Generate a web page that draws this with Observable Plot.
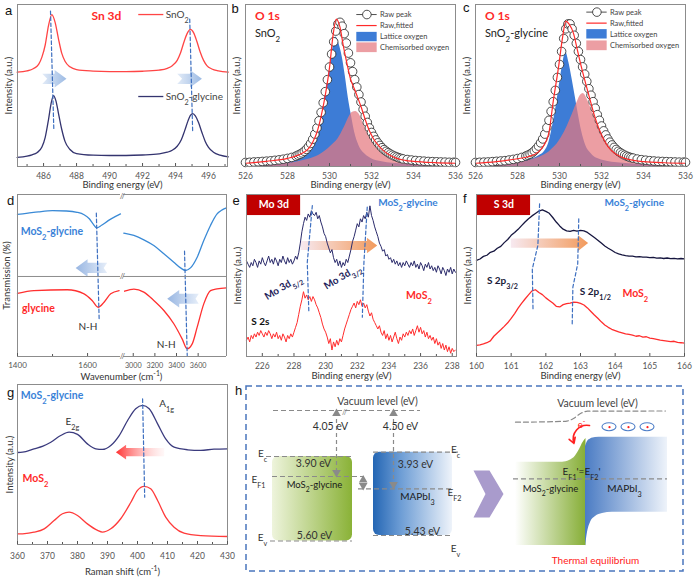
<!DOCTYPE html>
<html><head><meta charset="utf-8">
<script src="https://cdn.jsdelivr.net/npm/d3@7"></script>
<script src="https://cdn.jsdelivr.net/npm/@observablehq/plot@0.6"></script>
<style>
html,body{margin:0;padding:0;background:#fff;}
#fig{position:relative;width:697px;height:579px;overflow:hidden;background:#fff;}
.pl{position:absolute;}
.lt{position:absolute;font:13px "Liberation Sans",Arial,sans-serif;color:#111;line-height:1;}
</style></head>
<body>
<svg width="0" height="0" style="position:absolute">
<defs>
<linearGradient id="gArrA" x1="0" x2="1" y1="0" y2="0"><stop offset="0" stop-color="#e2ebf7"/><stop offset="1" stop-color="#9dbbe4"/></linearGradient>
<linearGradient id="gArrD" x1="0" x2="1" y1="0" y2="0"><stop offset="0" stop-color="#98b6e2"/><stop offset="1" stop-color="#e6eef9"/></linearGradient>
<linearGradient id="gArrE" x1="0" x2="1" y1="0" y2="0"><stop offset="0" stop-color="#f7e9f0"/><stop offset="1" stop-color="#f29a5c"/></linearGradient>
<linearGradient id="gArrG" x1="0" x2="1" y1="0" y2="0"><stop offset="0" stop-color="#ff3030"/><stop offset="1" stop-color="#ffe6e6" stop-opacity="0.3"/></linearGradient>
<linearGradient id="gGreenBox" x1="0" x2="1" y1="0" y2="0"><stop offset="0" stop-color="#eef4dc"/><stop offset="1" stop-color="#8ab237"/></linearGradient>
<linearGradient id="gBlueBox" x1="0" x2="1" y1="0" y2="0"><stop offset="0" stop-color="#2466b4"/><stop offset="0.35" stop-color="#6d9dd5"/><stop offset="1" stop-color="#eef3fa"/></linearGradient>
<linearGradient id="gGreen2" x1="0" x2="1" y1="0" y2="0"><stop offset="0" stop-color="#ffffff"/><stop offset="1" stop-color="#86ae36"/></linearGradient>
<linearGradient id="gBlue2" x1="0" x2="1" y1="0" y2="0"><stop offset="0" stop-color="#4b7cc4"/><stop offset="1" stop-color="#eef3fa"/></linearGradient>
</defs></svg>
<div id="fig"></div>
<script>
// ---------------- DATA ----------------
// (a) Sn 3d
const aRedX  = [484.4,485.0,485.4,485.7,485.9,486.1,486.3,486.5,486.7,486.9,487.1,487.3,487.6,488.0,489,490,491,492,493,493.5,493.8,494.1,494.3,494.5,494.7,494.9,495.1,495.3,495.5,495.7,495.9,496.2,496.6,497.2];
const aRedY  = [58.2,59,60.5,63,67.5,75,87,93.8,89,79,70,65,61.5,59.8,58.9,58.6,58.6,58.8,59.5,60.6,62.2,65.5,70,76.5,82,84.6,82.5,77,70.5,65.5,62.3,60.2,59,58.3];
const aNavyX = [484.4,485.0,485.3,485.6,485.9,486.1,486.3,486.45,486.6,486.75,486.9,487.1,487.3,487.6,488.0,489,490,491,492,493,493.5,493.8,494.1,494.35,494.55,494.75,494.9,495.05,495.2,495.4,495.6,495.8,496.0,496.3,496.7,497.2];
const aNavyY = [5.6,6.4,7.2,8.5,12,18,29,38.5,43.8,40.5,33,23,15.5,10.5,8,7,6.8,6.8,7.1,7.8,8.8,10,12.5,16.5,22,28,31.6,32.7,31.3,27,21,15.5,11.8,8.8,7,6];
const aTicks = [486,488,490,492,494,496];
const aMinor = [485,487,489,491,493,495,497];

// (b),(c) O 1s
const oTicks = [526,528,530,532,534,536];
const oMinor = [527,529,531,533,535];
const rawX = [...d3.range(526, 528.41, 0.2), ...d3.range(528.5, 533.51, 0.1), ...d3.range(533.7, 535.91, 0.2), 536];
const bRaw = [2.5,2.6,2.8,2.9,3.1,3.3,3.5,3.8,4.1,4.5,5,5.6,6.4,
 7,7.6,8.4,9.4,10.6,12.2,14.2,16.8,20,23.8,
 28.2,33.4,39.4,46.2,53.6,61.4,69.4,77,83.6,88,
 89,86.6,82,76.2,70,64,58.6,53.6,49,44.4,
 39.8,35.2,31,27.2,23.8,21,18.6,16.4,14.6,13,
 11.6,10.4,9.4,8.5,7.7,7,6.4,5.9,5.4,5,4.7,
 4.3,4,3.7,3.5,3.3,3.1,3,2.9,2.8,2.7,2.6,2.6,2.5];
const bLatX = [526,527,527.5,528,528.5,528.8,529.0,529.2,529.4,529.6,529.8,530.0,530.15,530.3,530.45,530.6,530.75,530.9,531.05,531.2,531.4,531.7,532,532.5,533,534,535,536];
const bLatY = [1.2,1.8,2.5,3.8,6.5,9.5,13,17,22,32,45,60,72,80,76,68,56,42,31,21,13,7.5,4.8,3,2,1.3,1.1,1];
const bChemX = [526,527,528,528.5,529,529.5,529.8,530.1,530.4,530.7,530.95,531.1,531.25,531.4,531.6,531.8,532,532.3,532.6,533,533.5,534,535,536];
const bChemY = [0.8,1.2,2,3,4.5,7,9.5,13,17,24,31,33.5,34,32.5,27,21,16.5,11,7.8,5,3,2,1.3,1];
const bFitX = [526,527,528,528.5,529,529.2,529.4,529.6,529.8,530.0,530.16,530.32,530.5,530.65,530.84,531.0,531.15,531.3,531.5,531.7,531.9,532.1,532.4,532.8,533.2,533.6,534,535,536];
const bFitY = [2,3.2,5,7,11,15,21,31,44,61,80,91,86,75,63,54,49,44,37,29,22,17,12,7.5,5,3.8,3.2,2.4,2];

const cRaw = [2.5,2.6,2.7,2.8,3,3.2,3.4,3.6,4,4.4,4.9,5.6,6.5,
 7,7.6,8.5,9.6,11,12.6,14.6,17,20,24,
 28.5,34,40,47,55,63,71,79,85,88,
 88,85,81,76,71,66,61.5,57,52.5,48,
 44,40,36,32,28.5,25,22,19.5,17,15,
 13.3,11.8,10.5,9.4,8.5,7.7,7,6.4,5.9,5.5,5.2,
 4.6,4.2,3.9,3.6,3.4,3.2,3.1,3,2.9,2.8,2.7,2.7,2.6];
const cLatX = [526,527,528,528.5,529,529.3,529.5,529.7,529.85,530.0,530.15,530.3,530.45,530.6,530.75,530.9,531.05,531.25,531.5,532,533,534,536];
const cLatY = [1,1.5,2.8,4,6.5,9.5,15,27,38,51,63,70.6,64,54,43,32,22,13,8,4,2,1.4,1];
const cChemX = [526,527,528,528.5,529,529.5,530,530.3,530.6,530.85,531.0,531.13,531.3,531.48,531.65,531.8,532,532.27,532.6,532.9,533.3,533.7,534.5,535.3,536];
const cChemY = [1,1.4,2.4,3.5,5.5,9,16,23,32,40,44,45,42,36.6,31,26,21,16,11,7.8,5.5,3.7,2.2,1.5,1.2];
const cFitX = [526,527,528,528.5,529,529.3,529.5,529.7,529.95,530.15,530.3,530.45,530.67,530.85,531.05,531.25,531.46,531.65,531.86,532.1,532.33,532.7,533.1,533.6,534,535,536];
const cFitY = [2,3,4.8,6,9,14,21,40,61,80,89.7,88,82,72,61,51,41,32,24,17,12,7.5,5,3.6,3,2.3,2];

// (d) FTIR
const dBlueLX = [1400,1430,1460,1500,1540,1570,1590,1605,1615,1626,1640,1660,1680,1694];
const dBlueLY = [87.7,88.5,89.3,90,89.8,89,87.5,85,82,79.4,81,84,86.5,88];
const dBlueRX = [2913,3006,3098,3190,3283,3375,3437,3483,3529,3591,3652,3714,3775,3822,3862];
const dBlueRY = [76.1,74.7,72,68.5,63.4,58.2,54.7,53.1,54.7,61.3,71.6,80.9,88,90.5,91.7];
const dRedLX = [1400,1447,1542,1590,1613,1630,1647,1666,1690];
const dRedLY = [39,40.7,41.2,38.7,34.6,30.4,33.5,38.7,40.7];
const dRedRX = [2920,3006,3098,3190,3283,3375,3452,3498,3545,3591,3652,3714,3775,3862];
const dRedRY = [40.3,41.6,39.7,34.6,28.4,20.2,10.9,4.8,7.8,18.1,32.5,40.7,41.8,42.4];

// (e) Mo 3d
const eX = d3.range(225, 238.21, 0.1);
const eNavy = [59,57,55,58,56,60,58,55,59,57, 61,58,56,59,62,58,60,57,61,59, 56,60,58,62,59,57,61,58,60,57,
 59,62,60,64,70,77,82,86,84,88, 86,90,88,87,89,85,87,83,80,76, 74,70,67,64,66,61,58,60,56,59,
 55,58,56,60,58,62,66,71,74,78, 82,80,85,83,87,85,89,86,93,87, 84,80,77,74,70,68,65,66,62,63,
 60,61,58,60,57,59,56,58,55,58, 56,59,57,55,58,56,59,55,57,54, 58,56,53,57,55,58,54,56,53,55,
 52,56,54,51,55,53,50,54,52,55, 51,54,52];
const eRed = [10,12,9,13,11,14,12,15,13,16, 14,12,15,13,16,14,11,14,12,15, 11,13,10,14,12,9,13,11,14,12,
 15,18,21,26,31,35,40,36,38,35, 37,34,37,35,32,30,27,24,20,17, 15,12,8,11,4,9,6,10,7,11,
 9,13,17,20,23,26,29,31,33,30, 34,32,35,31,33,30,32,28,25,27, 23,21,19,17,19,15,13,16,11,14,
 10,13,9,12,15,11,8,12,10,14, 12,15,13,16,14,17,13,16,19,15, 18,14,16,12,15,11,13,10,12,8,
 11,7,9,5,8,4,7,3,6,2, 5,3,4];

// (f) S 3d
const fX = d3.range(160, 166.01, 0.1);
const fNavy = [59.3,60.2,61.8,62.5,64.3,65,66.8,68,70.3,72.2, 74.8,76.5,78.5,80.8,83,85,86.8,88.3,89.8,90.5,
 89.6,88.4,85.8,83,80.6,78.6,77.6,77.2,77.8,77.4, 77.8,77.5,76.6,75,73.4,71.8,70,68.2,66.8,65.6,
 64.2,63.4,62.8,62.3,61.9,61.9,61.5,61.6,61.3,61.4, 61,61.2,60.7,60.9,60.5,60.8,60.4,60.6,60.2,60.5, 60.3];
const fRed = [6.8,7.2,7.8,8.5,9.6,12.5,14.5,16.5,18.6,20.8, 23.5,26.5,29.8,32.8,35.5,38,40.5,41.2,39.5,38.2,
 36.2,34.6,33,31,30.6,32,32.7,33,33.6,33.4, 32.8,31.8,30,27.8,25.6,23.6,21.4,19.5,18,16.8,
 16,15.2,14.6,14,13.6,13.2,12.5,12.8,12,12.2, 11.4,11,10.6,10.1,9.8,9.5,9.2,9.4,8.7,8.5, 8.2];

// (g) Raman
const gNavyX = [360,361.7,365.5,368.5,371.1,374.4,377.2,380,383.3,386.1,388.3,391.1,393.9,396.7,399.4,401.7,403.9,406.7,409.4,412.2,416.7,421.1,425.5,430];
const gNavyY = [57.5,57.7,59.8,61.5,63.9,68.1,70.2,68.8,62.9,59.8,59.4,61.9,68.1,77.5,84.8,86.9,84.8,75.4,66,60.8,59.2,58.8,59.6,59.8];
const gRedX = [360,361.7,365.5,368.9,372.2,375,377.2,380,383.3,386.7,388.3,391.1,394.4,397.8,400,402.2,404.4,406.7,409.4,412.2,415.5,421.1,430];
const gRedY = [6.6,6.7,7.7,9.8,15,19.2,20.2,18.1,12.9,8.8,7.7,9.8,16.1,26.4,33.8,36.3,34.8,27.5,17.1,10.8,7.1,5.6,5];

// (h) energy diagram (schematic, read in figure units)
const hLevels = [
  {x1: 266, x2: 352, y: 456}, {x1: 272, x2: 364, y: 476}, {x1: 270, x2: 352, y: 540.5},
  {x1: 373, x2: 460, y: 451.7}, {x1: 358, x2: 451, y: 488.3}, {x1: 373, x2: 452, y: 535},
  {x1: 273, x2: 420, y: 410}, {x1: 513, x2: 667, y: 478.3}
];
const hVert = [{x: 336, y1: 412, y2: 474}, {x: 393, y1: 412, y2: 486}];
const hHeads = [{x: 336, y: 413, r: 0}, {x: 336, y: 472, r: 180}, {x: 393, y: 413, r: 0}, {x: 393, y: 484, r: 180}, {x: 362.7, y: 479.5, r: 0}, {x: 362.7, y: 485, r: 180}];
const hChevron = [{x: 473, y: 470}, {x: 489, y: 470}, {x: 503, y: 493.5}, {x: 489, y: 517}, {x: 473, y: 517}, {x: 485, y: 493.5}];
const hVac2 = [{x: 515, y: 421.7}, {x: 565, y: 420.8}, {x: 573, y: 418}, {x: 580, y: 413}, {x: 587, y: 410.7}, {x: 665, y: 410.5}];
const hGreen2 = [{x: 515, t: 461.7, b: 545}, {x: 562, t: 461.7, b: 545}, {x: 569, t: 460, b: 545}, {x: 575, t: 455.5, b: 545}, {x: 579, t: 449, b: 545}, {x: 582.5, t: 442, b: 545}, {x: 585.5, t: 438, b: 545}];
const hBlue2 = [{x: 585, t: 446, b: 546}, {x: 587, t: 441, b: 532}, {x: 590, t: 438.5, b: 522}, {x: 595, t: 437, b: 516}, {x: 602, t: 436.7, b: 513}, {x: 612, t: 436.7, b: 511.7}, {x: 667, t: 436.7, b: 511.7}];
const hElec = [609, 628, 647];

// ---------------- HELPERS ----------------
const FONT = "Lato, 'Open Sans', sans-serif";
const FR = "#8c8c8c", DASH = "#3d6fc0", RED = "#ff2d2d", NAVY = "#2b2b6b", BLUEL = "#3a82d8";
const LAT = "#3d7cd6", CHEM = "#e5797f";
const ST = {fontFamily: FONT, fontSize: "9px", color: "#444", background: "transparent", overflow: "visible"};
const zip = (xs, ys) => xs.map((x, i) => ({x, y: ys[i]}));
const pts = a => a.map(([x, y]) => ({x, y}));
const fig = document.getElementById("fig");

function rich(el) {
  const s = el.textContent;
  if (!/[_^]\{/.test(s)) return;
  el.textContent = "";
  const re = /([_^])\{([^}]*)\}/g; let last = 0, m;
  const NS = "http://www.w3.org/2000/svg";
  const ts = (t) => { const e = document.createElementNS(NS, "tspan"); e.textContent = t; return e; };
  while ((m = re.exec(s))) {
    if (m.index > last) el.appendChild(ts(s.slice(last, m.index)));
    const e = ts(m[2]);
    e.setAttribute("baseline-shift", m[1] === "_" ? "sub" : "super");
    e.setAttribute("font-size", "72%");
    el.appendChild(e); last = re.lastIndex;
  }
  if (last < s.length) el.appendChild(ts(s.slice(last)));
}
function place(svg, left, top) {
  svg.classList.add("pl");
  svg.style.left = left + "px"; svg.style.top = top + "px";
  svg.querySelectorAll("text").forEach(t => { const tsp = t.querySelectorAll("tspan"); if (tsp.length) tsp.forEach(rich); else rich(t); });
  fig.appendChild(svg);
}
function blockArrow(x1, x2, y, hs, hh, hl, notch = 0) {
  const s = Math.sign(x2 - x1), xb = x2 - s * hl;
  return [{x: x1, y: y + hs}, {x: xb, y: y + hs}, {x: xb, y: y + hh}, {x: x2, y}, {x: xb, y: y - hh}, {x: xb, y: y - hs}, {x: x1, y: y - hs}, {x: x1 + s * notch, y}];
}
const axisB = (ticks, minor, pad = 9, fs = 8.5) => {
  const m = [Plot.axisX({ticks, tickSize: -3, tickPadding: pad, tickFormat: "d", fontSize: fs, color: "#555"})];
  if (minor) m.push(Plot.axisX({ticks: minor, tickSize: -2, tickFormat: () => "", color: "#555"}));
  return m;
};
const yLab = (t, dx) => Plot.text([t], {text: d => d, frameAnchor: "left", rotate: -90, dx, textAnchor: "middle", lineAnchor: "middle", fontSize: 9.5, fill: "#333"});
const xTit = (t, dy) => Plot.text([t], {text: d => d, frameAnchor: "bottom", dy, lineAnchor: "middle", fontSize: 9.5, fill: "#333"});
const T = (t, x, y, o = {}) => Plot.text([t], {text: d => d, x, y, fontSize: 10, fill: "#333", ...o});
const XY = {x: "x", y: "y"};
const arrowMark = (p, grad) => Plot.line(p, {...XY, fill: `url(#${grad})`, stroke: "none"});
const dashL = p => Plot.line(pts(p), {...XY, stroke: DASH, strokeDasharray: "3.5,2.5", strokeWidth: 1.2});

// ---------------- PANEL a ----------------
place(Plot.plot({
  width: 232, height: 190, marginLeft: 17, marginRight: 5, marginTop: 4, marginBottom: 24, style: ST,
  x: {domain: [484.42, 497.15], label: null}, y: {domain: [0, 100], axis: null},
  marks: [
    arrowMark(blockArrow(485.92, 487.39, 54.1, 3.2, 5.4, 0.72, 0.3), "gArrA"),
    arrowMark(blockArrow(494.1, 495.6, 54.1, 3.2, 5.4, 0.72, 0.3), "gArrA"),
    Plot.line(zip(aRedX, aRedY), {...XY, stroke: "#ff4545", strokeWidth: 1.3, curve: "monotone-x"}),
    Plot.line(zip(aNavyX, aNavyY), {...XY, stroke: "#34346f", strokeWidth: 1.3, curve: "monotone-x"}),
    dashL([[486.42, 96], [486.62, 23.5]]),
    dashL([[494.86, 91], [495.04, 21]]),
    Plot.ruleY([93.8], {x1: 491.77, x2: 493.29, stroke: "#ff4545", strokeWidth: 1.3}),
    Plot.ruleY([43.2], {x1: 491.77, x2: 493.29, stroke: "#34346f", strokeWidth: 1.3}),
    T("SnO_{2}", 493.4, 93.8, {textAnchor: "start", fill: "#444"}),
    T("SnO_{2}-glycine", 493.4, 43.2, {textAnchor: "start", fill: "#444"}),
    T("Sn 3d", 489.81, 92.6, {fontSize: 12, fontWeight: "bold", fill: "#ff2a2a"}),
    Plot.frame({stroke: FR}),
    ...axisB(aTicks, aMinor),
    yLab("Intensity (a.u.)", -9),
    xTit("Binding energy (eV)", 18.5)
  ]
}), 0, 0);

// ---------------- PANELS b, c ----------------
function o1s(raw, latX, latY, chX, chY, fitX, fitY, name, nameY, lg) {
  return Plot.plot({
    width: 232, height: 190, marginLeft: 15, marginRight: 7, marginTop: 4, marginBottom: 24, style: ST,
    x: {domain: [526, 536], label: null}, y: {domain: [0, 100], axis: null},
    marks: [
      Plot.areaY(zip(latX, latY), {...XY, fill: LAT, curve: "monotone-x"}),
      Plot.areaY(zip(chX, chY), {...XY, fill: CHEM, fillOpacity: 0.72, curve: "monotone-x"}),
      Plot.dot(zip(rawX, raw), {...XY, r: 4.3, stroke: "#222", strokeWidth: 0.8, fill: "white"}),
      Plot.line(zip(fitX, fitY), {...XY, stroke: "#ff2a2a", strokeWidth: 1.2, curve: "monotone-x"}),
      Plot.ruleY([lg[0]], {x1: 531.3, x2: 532.27, stroke: "#222", strokeWidth: 0.8}),
      Plot.dot([0], {x: 531.78, y: lg[0], r: 4.3, stroke: "#222", strokeWidth: 0.8, fill: "white"}),
      Plot.ruleY([lg[1]], {x1: 531.3, x2: 532.27, stroke: "#ff2a2a", strokeWidth: 1.2}),
      Plot.rect([0], {x1: 531.3, x2: 532.27, y1: lg[2] - 2.9, y2: lg[2] + 2.9, fill: LAT}),
      Plot.rect([0], {x1: 531.3, x2: 532.27, y1: lg[3] - 3, y2: lg[3] + 3, fill: CHEM, fillOpacity: 0.72}),
      Plot.text(["Raw peak", "Raw,fitted", "Lattice oxygen", "Chemisorbed oxygen"], {text: d => d, x: 532.4, y: lg, textAnchor: "start", fontSize: 7.5, fill: "#444"}),
      T("O 1s", 526.45, 92.6, {fontSize: 12, fontWeight: "bold", fill: "#ff2a2a", textAnchor: "start"}),
      T(name, 526.45, nameY, {fontSize: 11, fill: "#222", textAnchor: "start"}),
      Plot.frame({stroke: FR}),
      ...axisB(oTicks, oMinor),
      yLab("Intensity (a.u.)", -8.5),
      xTit("Binding energy (eV)", 18.5)
    ]
  });
}
place(o1s(bRaw, bLatX, bLatY, bChemX, bChemY, bFitX, bFitY, "SnO_{2}", 82, [93.8, 87, 79.9, 73.3]), 230, 0);
place(o1s(cRaw, cLatX, cLatY, cChemX, cChemY, cFitX, cFitY, "SnO_{2}-glycine", 82, [95.3, 88.5, 81.6, 74.5]), 460, 0);

// ---------------- PANEL d ----------------
const FRD = [Plot.ruleY([0, 49.4, 100], {stroke: FR})];
place(Plot.plot({
  width: 121, height: 190, marginLeft: 17, marginRight: 1, marginTop: 4, marginBottom: 24, style: ST,
  x: {domain: [1400, 1694], label: null}, y: {domain: [0, 100], axis: null},
  marks: [
    arrowMark(blockArrow(1656, 1566, 54.7, 3.1, 5.4, 34, 10), "gArrD"),
    Plot.line(zip(dBlueLX, dBlueLY), {...XY, stroke: "#3a8ad6", strokeWidth: 1.3, curve: "monotone-x"}),
    Plot.line(zip(dRedLX, dRedLY), {...XY, stroke: "#ff3030", strokeWidth: 1.3, curve: "monotone-x"}),
    dashL([[1625, 88.5], [1633, 23.3]]),
    T("MoS_{2}-glycine", 1409, 77.3, {textAnchor: "start", fontWeight: "bold", fill: BLUEL, fontSize: 10.5}),
    T("glycine", 1413, 29.4, {textAnchor: "start", fontWeight: "bold", fill: "#ff2a2a", fontSize: 10.5}),
    T("N-H", 1601, 18.1),
    ...FRD, Plot.ruleX([1400], {stroke: FR}),
    Plot.text(["//", "//", "//"], {text: d => d, x: 1694, y: [99, 49.4, 0], dx: 2, fontSize: 8, fill: "#666"}),
    ...axisB([1400, 1600], [1500], 9, 8),
    yLab("Transmission (%)", -10.5),
    Plot.text(["Wavenumber (cm^{-1})"], {text: d => d, frameAnchor: "bottom-right", textAnchor: "middle", dx: 1, dy: 20, lineAnchor: "middle", fontSize: 9.5, fill: "#333"})
  ]
}), 0, 190);
place(Plot.plot({
  width: 110, height: 190, marginLeft: 1, marginRight: 6, marginTop: 4, marginBottom: 24, style: ST,
  x: {domain: [2910, 3862], label: null}, y: {domain: [0, 100], axis: null},
  marks: [
    arrowMark(blockArrow(3606, 3314, 35.6, 3.1, 5.4, 111, 30), "gArrD"),
    Plot.line(zip(dBlueRX, dBlueRY), {...XY, stroke: "#3a8ad6", strokeWidth: 1.3, curve: "monotone-x"}),
    Plot.line(zip(dRedRX, dRedRY), {...XY, stroke: "#ff3030", strokeWidth: 1.3, curve: "monotone-x"}),
    dashL([[3474, 65], [3499, 0.6]]),
    T("N-H", 3305, 7.2),
    ...FRD, Plot.ruleX([3862], {stroke: FR}),
    ...axisB([3000, 3200, 3400, 3600], null, 9, 7.2)
  ]
}), 122, 190);

// ---------------- PANEL e ----------------
place(Plot.plot({
  width: 232, height: 190, marginLeft: 16, marginRight: 6, marginTop: 4, marginBottom: 24, style: ST,
  x: {domain: [225, 238.27], label: null}, y: {domain: [0, 100], axis: null},
  marks: [
    arrowMark(blockArrow(228.42, 233.26, 68.5, 2.8, 4.8, 0.65), "gArrE"),
    Plot.line(zip(eX, eNavy), {...XY, stroke: NAVY, strokeWidth: 1}),
    Plot.line(zip(eX, eRed), {...XY, stroke: RED, strokeWidth: 1}),
    dashL([[229.16, 93.2], [228.84, 58], [228.94, 27.3]]),
    dashL([[232.63, 92.2], [232.42, 58], [232.32, 24.3]]),
    Plot.rect([0], {x1: 225.04, x2: 228.42, y1: 87, y2: 100, fill: "#c00000"}),
    T("Mo 3d", 226.73, 93.5, {fill: "white", fontWeight: "bold", fontSize: 10.5}),
    T("MoS_{2}-glycine", 235.2, 94.6, {fontWeight: "bold", fill: BLUEL, fontSize: 10}),
    T("Mo 3d_{5/2}", 227.3, 42.8, {fontWeight: "bold", fill: "#1f1f5c", rotate: -31, fontSize: 10}),
    T("Mo 3d_{3/2}", 231.05, 49.4, {fontWeight: "bold", fill: "#1f1f5c", rotate: -31, fontSize: 10}),
    T("MoS_{2}", 235.9, 37.7, {fontWeight: "bold", fill: "#ff2a2a", fontSize: 10.5}),
    T("S 2s", 225.3, 21.2, {fontWeight: "bold", fill: "#111", textAnchor: "start", fontSize: 10}),
    Plot.frame({stroke: FR}),
    ...axisB([226, 228, 230, 232, 234, 236, 238], [227, 229, 231, 233, 235, 237]),
    yLab("Intensity (a.u.)", -8.5),
    xTit("Binding energy (eV)", 19.5)
  ]
}), 230, 190);

// ---------------- PANEL f ----------------
place(Plot.plot({
  width: 237, height: 190, marginLeft: 16, marginRight: 13, marginTop: 4, marginBottom: 24, style: ST,
  x: {domain: [160, 166], label: null}, y: {domain: [0, 100], axis: null},
  marks: [
    arrowMark(blockArrow(160.99, 163.22, 70, 2.8, 4.8, 0.29), "gArrE"),
    Plot.line(zip(fX, fNavy), {...XY, stroke: "#16163f", strokeWidth: 1.3}),
    Plot.line(zip(fX, fRed), {...XY, stroke: RED, strokeWidth: 1.3}),
    dashL([[161.82, 94.2], [161.77, 68.5], [161.61, 54.1], [161.63, 29.4]]),
    dashL([[162.95, 85], [162.92, 57.2], [162.78, 42.8], [162.76, 19.1]]),
    Plot.rect([0], {x1: 160.02, x2: 161.56, y1: 87, y2: 100, fill: "#c00000"}),
    T("S 3d", 160.79, 93.5, {fill: "white", fontWeight: "bold", fontSize: 10.5}),
    T("MoS_{2}-glycine", 164.55, 94.6, {fontWeight: "bold", fill: BLUEL, fontSize: 10}),
    T("S 2p_{3/2}", 160.3, 46.9, {fontWeight: "bold", fill: "#1a1a3a", textAnchor: "start", fontSize: 10}),
    T("S 2p_{1/2}", 162.98, 39.7, {fontWeight: "bold", fill: "#1a1a3a", textAnchor: "start", fontSize: 10}),
    T("MoS_{2}", 164.58, 38.7, {fontWeight: "bold", fill: "#ff2a2a", fontSize: 10.5}),
    Plot.frame({stroke: FR}),
    ...axisB([160, 161, 162, 163, 164, 165, 166], null),
    yLab("Intensity (a.u.)", -8.5),
    xTit("Binding energy (eV)", 19.5)
  ]
}), 460, 190);

// ---------------- PANEL g ----------------
place(Plot.plot({
  width: 232, height: 199, marginLeft: 17, marginRight: 5, marginTop: 4, marginBottom: 35, style: ST,
  x: {domain: [360, 430], label: null}, y: {domain: [0, 100], axis: null},
  marks: [
    arrowMark(blockArrow(408.9, 392.8, 57.7, 2.6, 4.6, 3.4), "gArrG"),
    Plot.line(zip(gNavyX, gNavyY), {...XY, stroke: "#3b3b7e", strokeWidth: 1.3, curve: "monotone-x"}),
    Plot.line(zip(gRedX, gRedY), {...XY, stroke: "#ff3b3b", strokeWidth: 1.3, curve: "monotone-x"}),
    dashL([[401.7, 91], [402.4, 29.6]]),
    T("MoS_{2}-glycine", 361.1, 93.1, {textAnchor: "start", fontWeight: "bold", fill: BLUEL, fontSize: 10.5}),
    T("MoS_{2}", 361.7, 41, {textAnchor: "start", fontWeight: "bold", fill: "#ff2a2a", fontSize: 10.5}),
    T("E_{2g}", 378.3, 76.5),
    T("A_{1g}", 409.7, 88),
    Plot.frame({stroke: FR}),
    ...axisB([360, 370, 380, 390, 400, 410, 420, 430], [365, 375, 385, 395, 405, 415, 425], 11.5),
    yLab("Intensity (a.u.)", -7.5),
    xTit("Raman shift (cm^{-1})", 27)
  ]
}), 0, 380);

// ---------------- PANEL h ----------------
const GRAY = "#8a8a8a";
const hT = [
  ["Vacuum level (eV)", 377, 401.5, "middle", "normal", 10.5, "#444"],
  ["4.05 eV", 330, 426, "end", "normal", 10.5, "#333"],
  ["4.50 eV", 400, 426, "start", "normal", 10.5, "#333"],
  ["3.90 eV", 313, 463, "middle", "normal", 10.5, "#333"],
  ["3.93 eV", 415, 464, "middle", "normal", 10.5, "#333"],
  ["5.60 eV", 314, 535, "middle", "normal", 10.5, "#333"],
  ["5.43 eV", 422, 531.5, "middle", "normal", 10.5, "#333"],
  ["E_{c}", 262, 453, "start", "normal", 10, "#333"],
  ["E_{F1}", 258, 479.5, "start", "normal", 10, "#333"],
  ["E_{v}", 262, 537, "start", "normal", 10, "#333"],
  ["E_{c}", 455, 449.5, "start", "normal", 10, "#333"],
  ["E_{F2}", 454, 492, "start", "normal", 10, "#333"],
  ["E_{v}", 455, 548.5, "start", "normal", 10, "#333"],
  ["MoS_{2}-glycine", 314, 484.5, "middle", "bold", 9.5, "#1a1a1a"],
  ["MAPbI_{3}", 417, 496.5, "middle", "bold", 10, "#1a1a1a"],
  ["Vacuum level (eV)", 597, 402.7, "middle", "normal", 10.5, "#444"],
  ["E_{F1}'=E_{F2}'", 581, 471, "middle", "normal", 10, "#222"],
  ["MoS_{2}-glycine", 550, 488.5, "middle", "bold", 9.5, "#1a1a1a"],
  ["MAPbI_{3}", 624, 488.5, "middle", "bold", 10, "#1a1a1a"],
  ["Thermal equilibrium", 595, 560, "middle", "bold", 10, "#ff2020"],
  ["e^{-}", 581, 424.5, "middle", "normal", 9.5, "#ff2020"],
  ["//", 344, 412, "middle", "normal", 7.5, "#777"]
];
place(Plot.plot({
  width: 467, height: 199, marginLeft: 0, marginRight: 0, marginTop: 0, marginBottom: 0, style: ST,
  x: {domain: [230, 697], range: [0, 467], axis: null}, y: {domain: [380, 579], range: [0, 199], axis: null},
  marks: [
    Plot.rect([0], {x1: 246, x2: 683, y1: 386, y2: 571, fill: "none", stroke: "#4a76bd", strokeDasharray: "6,4", strokeWidth: 1.5}),
    Plot.rect([0], {x1: 272, x2: 352, y1: 456, y2: 540.5, rx: 6, fill: "url(#gGreenBox)"}),
    Plot.rect([0], {x1: 373, x2: 452, y1: 451.7, y2: 535, rx: 6, fill: "url(#gBlueBox)"}),
    Plot.line(hChevron, {...XY, fill: "#a99bcc", stroke: "none"}),
    Plot.areaY(hGreen2, {x: "x", y1: "b", y2: "t", fill: "url(#gGreen2)", curve: "monotone-x"}),
    Plot.areaY(hBlue2, {x: "x", y1: "b", y2: "t", fill: "url(#gBlue2)", curve: "monotone-x"}),
    Plot.ruleY(hLevels, {y: "y", x1: "x1", x2: "x2", stroke: GRAY, strokeDasharray: "5,3", strokeWidth: 1.2}),
    Plot.line(hVac2, {...XY, stroke: GRAY, strokeDasharray: "5,3", strokeWidth: 1.2, curve: "monotone-x"}),
    Plot.ruleX(hVert, {x: "x", y1: "y1", y2: "y2", stroke: GRAY, strokeDasharray: "4,3", strokeWidth: 1.2}),
    Plot.dot(hHeads, {x: "x", y: "y", rotate: "r", symbol: "triangle", r: 3.2, fill: GRAY, stroke: "none"}),
    Plot.rect(hElec, {x1: d => d - 7, x2: d => d + 7, y1: 422.7, y2: 430.7, rx: 7, ry: 4, fill: "white", stroke: "#4f7fc8", strokeWidth: 1.1}),
    Plot.dot(hElec, {x: d => d, y: 426.7, r: 1.1, fill: "#ff2020", stroke: "none"}),
    Plot.arrow([0], {x1: 589, y1: 425, x2: 573.5, y2: 443, bend: -60, stroke: "#ff2020", strokeWidth: 1.6, headLength: 6}),
    Plot.text(hT, {text: d => d[0], x: d => d[1], y: d => d[2], textAnchor: d => d[3], fontWeight: d => d[4], fontSize: d => d[5], fill: d => d[6]})
  ]
}), 230, 380);

// ---------------- panel letters ----------------
[["a", 5, 3.5], ["b", 231.5, 2.3], ["c", 463, 1], ["d", 7, 194], ["e", 232.5, 194], ["f", 463, 192.3], ["g", 7, 386], ["h", 235, 384]]
  .forEach(([t, l, tp]) => { const d = document.createElement("div"); d.className = "lt"; d.textContent = t; d.style.left = l + "px"; d.style.top = tp + "px"; fig.appendChild(d); });
</script>
</body></html>
